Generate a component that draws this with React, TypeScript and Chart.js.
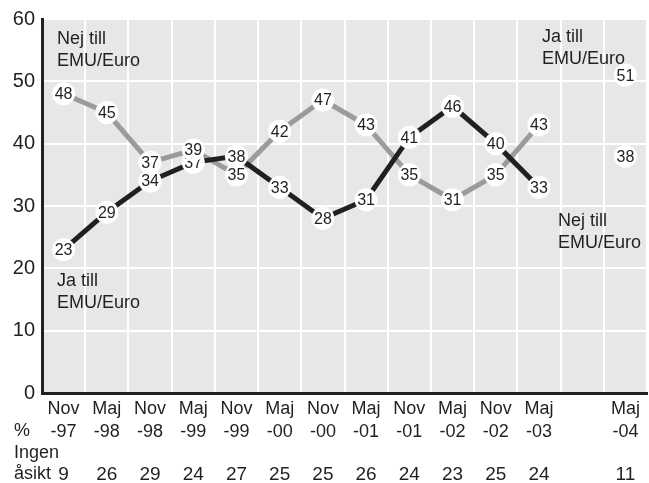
import React, { useEffect, useRef } from "react";
import { Chart, registerables } from "chart.js";

Chart.register(...registerables);

const categories: string[][] = [
  ["Nov", "-97"], ["Maj", "-98"], ["Nov", "-98"], ["Maj", "-99"], ["Nov", "-99"],
  ["Maj", "-00"], ["Nov", "-00"], ["Maj", "-01"], ["Nov", "-01"], ["Maj", "-02"],
  ["Nov", "-02"], ["Maj", "-03"], ["", ""], ["Maj", "-04"],
];
const jaValues: (number | null)[] = [23, 29, 34, 37, 38, 33, 28, 31, 41, 46, 40, 33, null, 38];
const nejValues: (number | null)[] = [48, 45, 37, 39, 35, 42, 47, 43, 35, 31, 35, 43, null, 51];
const ingenAsikt: string[] = ["9", "26", "29", "24", "27", "25", "25", "26", "24", "23", "25", "24", "", "11"];
const yTicks: number[] = [0, 10, 20, 30, 40, 50, 60];

const FONT = "'Liberation Sans', Arial, Helvetica, sans-serif";
const TEXT = "#231f20";
const BLACK = "#231f20";
const GRAY = "#9b9b9b";
const BG = "#e6e7e8";

const bgPlugin = {
  id: "bgPlugin",
  beforeDraw(chart: any) {
    const { ctx, chartArea } = chart;
    ctx.save();
    ctx.fillStyle = BG;
    ctx.fillRect(chartArea.left, chartArea.top, chartArea.right - chartArea.left, chartArea.bottom - chartArea.top);
    ctx.restore();
  },
};

const pointLabelPlugin = {
  id: "pointLabelPlugin",
  afterDatasetsDraw(chart: any) {
    const ctx = chart.ctx;
    ctx.save();
    chart.data.datasets.forEach((ds: any, di: number) => {
      const meta = chart.getDatasetMeta(di);
      meta.data.forEach((el: any, i: number) => {
        const v = ds.data[i];
        if (v == null) return;
        ctx.beginPath();
        ctx.arc(el.x, el.y, 11.5, 0, Math.PI * 2);
        ctx.fillStyle = "#ffffff";
        ctx.fill();
        ctx.fillStyle = TEXT;
        ctx.font = `16px ${FONT}`;
        ctx.textAlign = "center";
        ctx.textBaseline = "middle";
        ctx.fillText(String(v), el.x, el.y + 1);
      });
    });
    ctx.restore();
  },
};

const textPlugin = {
  id: "textPlugin",
  afterDraw(chart: any) {
    const { ctx, chartArea } = chart;
    const x = chart.scales.x;
    const y = chart.scales.y;
    ctx.save();
    ctx.fillStyle = TEXT;
    ctx.textBaseline = "middle";
    ctx.font = `18px ${FONT}`;
    ctx.textAlign = "left";
    const annots = [
      { lines: ["Nej till", "EMU/Euro"], px: chartArea.left + 15, v: 56.8 },
      { lines: ["Ja till", "EMU/Euro"], px: chartArea.left + 15, v: 18.0 },
      { lines: ["Ja till", "EMU/Euro"], px: x.getPixelForValue(11) + 3, v: 57.1 },
      { lines: ["Nej till", "EMU/Euro"], px: x.getPixelForValue(11) + 19, v: 27.6 },
    ];
    annots.forEach((a) => {
      const y0 = y.getPixelForValue(a.v);
      a.lines.forEach((t, k) => ctx.fillText(t, a.px, y0 + k * 22));
    });
    const b = chartArea.bottom;
    ctx.font = `18px ${FONT}`;
    ctx.textAlign = "left";
    ctx.fillText("%", 14, b + 38);
    ctx.fillText("Ingen", 14, b + 60);
    ctx.fillText("åsikt", 14, b + 81);
    ctx.font = `19px ${FONT}`;
    ctx.textAlign = "center";
    ingenAsikt.forEach((t, i) => {
      if (!t) return;
      ctx.fillText(t, x.getPixelForValue(i), b + 82);
    });
    ctx.restore();
  },
};

export default function App() {
  const ref = useRef<HTMLCanvasElement | null>(null);
  useEffect(() => {
    if (!ref.current) return;
    const chart = new Chart(ref.current, {
      type: "line",
      data: {
        labels: categories as any,
        datasets: [
          {
            label: "Ja till EMU/Euro",
            data: jaValues,
            borderColor: BLACK,
            borderWidth: 5,
            pointRadius: 0,
            spanGaps: false,
            tension: 0,
          },
          {
            label: "Nej till EMU/Euro",
            data: nejValues,
            borderColor: GRAY,
            borderWidth: 5,
            pointRadius: 0,
            spanGaps: false,
            tension: 0,
          },
        ],
      },
      options: {
        animation: false,
        responsive: true,
        maintainAspectRatio: false,
        layout: { padding: { top: 16, right: 2, left: 0, bottom: 0 } },
        plugins: { legend: { display: false }, tooltip: { enabled: false } },
        scales: {
          x: {
            type: "category",
            offset: true,
            grid: { color: "#ffffff", lineWidth: 2, drawTicks: false, offset: true },
            border: { display: true, color: BLACK, width: 3 },
            ticks: {
              color: TEXT,
              font: { family: FONT, size: 18, lineHeight: 1.25 },
              padding: 5,
              maxRotation: 0,
              autoSkip: false,
            },
            afterFit: (s: any) => { s.height = 90; },
          },
          y: {
            min: 0,
            max: 60,
            afterBuildTicks: (s: any) => { s.ticks = yTicks.map((v) => ({ value: v })); },
            grid: { color: "#ffffff", lineWidth: 2, drawTicks: false },
            border: { display: true, color: BLACK, width: 3 },
            ticks: {
              color: TEXT,
              font: { family: FONT, size: 20 },
              padding: 7,
            },
            afterFit: (s: any) => { s.width = 42; },
          },
        },
      },
      plugins: [bgPlugin, pointLabelPlugin, textPlugin],
    });
    return () => chart.destroy();
  }, []);
  return (
    <div style={{ position: "absolute", left: 0, top: 0, width: 649, height: 483 }}>
      <canvas ref={ref} />
    </div>
  );
}
